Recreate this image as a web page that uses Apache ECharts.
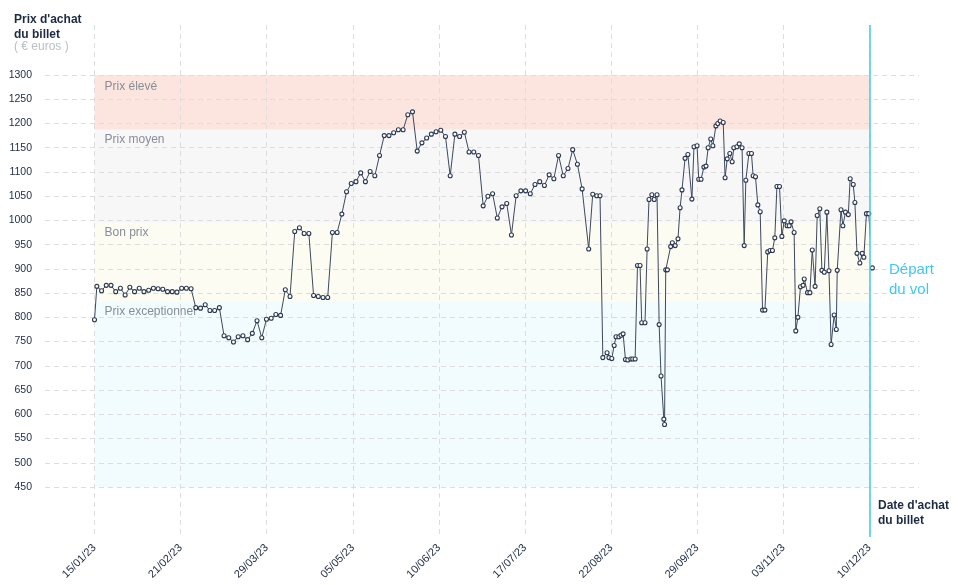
<!DOCTYPE html>
<html><head><meta charset="utf-8">
<script src="https://cdn.jsdelivr.net/npm/echarts@6/dist/echarts.min.js"></script>
<style>html,body{margin:0;padding:0;background:#fff}#c{width:958px;height:585px}</style>
</head><body><div id="c"></div>
<script>
// ---- data ----
const tickLabels = ['15/01/23','21/02/23','29/03/23','05/05/23','10/06/23','17/07/23','22/08/23','29/09/23','03/11/23','10/12/23'];
// days after 15/01/23
const purchaseDay = [
0,1,3,5,7,9,11,13,15,17,19,21,23,25,27,29,31,33,35,37,39,41,43,45,47,49,51,53,55,57,
59,61,63,65,67,69,71,73,75,77,79,81,83,85,87,89,91,93,95,97,99,101,103,105,107,109,111,113,115,117,
119,121,123,125,127,129,131,133,135,137,139,141,143,145,147,149,151,153,155,157,159,161,163,165,167,169,171,173,175,177,
179,181,183,185,187,189,191,193,195,197,199,201,203,205,207,
209.8,211.5,213.2,214.6,215.8,217.6,218.4,219.6,220.6,221.4,222.6,223.5,224.4,225.4,226.4,227.7,228.5,229.5,230.5,231.6,
232.3,233.7,234.6,235.4,236.6,237.6,238.8,239.7,240.5,241.7,242.0,242.5,243.2,244.6,245.3,246.5,247.7,248.6,249.4,250.7,
251.9,253.6,254.5,255.8,256.5,257.5,258.7,259.6,260.5,261.6,262.5,263.8,264.6,265.6,266.9,267.7,268.6,269.7,270.7,271.4,
272.7,273.7,274.9,275.8,276.5,277.8,278.9,279.6,280.6,281.6,282.6,283.6,284.6,285.8,286.8,287.8,288.8,289.7,290.8,291.8,
292.8,294.0,294.9,295.7,297.0,297.7,298.6,299.7,300.8,301.3,302.7,303.7,304.7,305.9,306.8,307.9,308.8,309.8,310.9,311.8,
312.7,314.0,314.9,315.3,316.9,317.7,318.8,320.0,320.8,322.1,322.8,323.7,324.9,325.9,326.6,327.7,328.7,330.2
];
// ticket price in euros
const price = [
795,864,855,866,866,853,860,846,862,853,
860,853,856,860,859,858,853,853,852,860,
860,859,820,819,826,814,814,820,762,758,
749,760,762,754,767,793,758,796,798,806,
804,857,843,977,985,973,973,845,843,841,
841,975,975,1013,1059,1076,1080,1098,1080,1101,
1092,1134,1175,1175,1181,1187,1187,1218,1224,1143,
1160,1170,1178,1183,1186,1173,1092,1178,1173,1182,
1141,1141,1134,1030,1050,1055,1005,1028,1035,970,
1051,1061,1061,1055,1074,1080,1072,1094,1086,1134,
1092,1107,1146,1116,1065,941,1054,1051,1051,717,
727,717,715,742,760,760,763,766,713,712,
714,714,714,907,907,789,789,941,1043,1053,
1043,1053,785,679,590,579,898,898,946,954,
948,962,1026,1063,1128,1136,1044,1152,1154,1085,
1085,1110,1112,1150,1168,1154,1195,1200,1205,1202,
1088,1127,1138,1121,1150,1152,1158,1150,948,1083,
1138,1138,1092,1090,1032,1018,815,815,935,938,
938,964,1070,1070,967,999,989,989,997,975,
772,800,863,866,879,851,851,939,864,1010,
1024,897,893,1017,896,744,805,775,897,1022,
989,1017,1012,1086,1074,1037,932,912,932,924,
1014,1014,902
];
const bandNames = ['Prix élevé','Prix moyen','Bon prix','Prix exceptionnel'];
const bandBounds = [1300,1187,995,832,450];
const bandColors = ['#fde5df','#f7f7f8','#fcfcf3','#f2fbfe'];
const bandLabelOffset = [6,4,4,4];

// ---- layout ----
const DAY_MAX = 329;
const Y_MIN = 450, Y_MAX = 1300, Y_STEP = 50;
const PLOT_TOP = 75, PLOT_BOTTOM = 487, FRAME_TOP = 25, FRAME_BOTTOM = 537;
const H = 585;
const upp = (Y_MAX - Y_MIN) / (PLOT_BOTTOM - PLOT_TOP);
const yLo = Y_MIN - (FRAME_BOTTOM - PLOT_BOTTOM) * upp;
const yHi = Y_MAX + (PLOT_TOP - FRAME_TOP) * upp;
const tickStep = DAY_MAX / (tickLabels.length - 1);

const FONT = "'Liberation Sans', Arial, sans-serif";
const NAVY = '#1d2a44';
const GRID_LINE = {color: '#dddddd', width: 1, type: [5, 4]};

const chart = echarts.init(document.getElementById('c'), null, {renderer: 'canvas'});
chart.setOption({
  animation: false,
  textStyle: {fontFamily: FONT},
  title: [
    {text: "Prix d'achat\ndu billet", left: 14, top: 12, padding: 0,
     textStyle: {fontSize: 12, fontWeight: 'bold', color: NAVY, lineHeight: 15, fontFamily: FONT}},
    {text: '( € euros )', left: 14, top: 40, padding: 0,
     textStyle: {fontSize: 12, fontWeight: 'normal', color: '#babec5', lineHeight: 14, fontFamily: FONT}},
    {text: "Date d'achat\ndu billet", left: 878, top: 498, padding: 0,
     textStyle: {fontSize: 12, fontWeight: 'bold', color: NAVY, lineHeight: 15, fontFamily: FONT}},
    {text: 'Départ\ndu vol', left: 889, top: 260, padding: 0,
     textStyle: {fontSize: 15, fontWeight: 'normal', color: '#3fc9ef', lineHeight: 20, fontFamily: FONT}}
  ],
  grid: [
    {left: 94.5, right: 88.5, top: FRAME_TOP, bottom: H - FRAME_BOTTOM, containLabel: false},
    {left: 45, right: 39, top: PLOT_TOP, bottom: H - PLOT_BOTTOM, containLabel: false}
  ],
  xAxis: [
    {gridIndex: 0, type: 'value', min: 0, max: DAY_MAX, interval: tickStep, z: 1,
     axisLine: {show: false}, axisTick: {show: false},
     splitLine: {show: true, lineStyle: GRID_LINE},
     axisLabel: {rotate: 45, margin: 9, fontSize: 11, color: NAVY, fontFamily: FONT,
       formatter: v => tickLabels[Math.round(v / tickStep)] || ''}},
    {gridIndex: 1, type: 'value', min: 0, max: 1, show: false}
  ],
  yAxis: [
    {gridIndex: 0, type: 'value', min: yLo, max: yHi, show: false},
    {gridIndex: 1, type: 'value', min: Y_MIN, max: Y_MAX, interval: Y_STEP, z: 1,
     axisLine: {show: false}, axisTick: {show: false},
     splitLine: {show: true, lineStyle: GRID_LINE},
     axisLabel: {margin: 13, fontSize: 10.5, color: NAVY, fontFamily: FONT,
       formatter: v => String(v)}}
  ],
  series: [{
    type: 'line', xAxisIndex: 0, yAxisIndex: 0, z: 3, clip: false,
    data: purchaseDay.map((d, i) => [d, price[i]]),
    symbol: 'circle', symbolSize: 4, showSymbol: true, showAllSymbol: true,
    lineStyle: {color: '#3d495e', width: 1},
    itemStyle: {color: '#ffffff', borderColor: '#2c3850', borderWidth: 1.1},
    emphasis: {disabled: true}, silent: true,
    markArea: {
      silent: true, z: 0,
      data: bandNames.map((name, i) => [
        {name: name, xAxis: 0, yAxis: bandBounds[i],
         itemStyle: {color: bandColors[i]},
         label: {show: true, position: 'insideTopLeft', distance: 0, offset: [10, bandLabelOffset[i]],
                 color: '#878d99', fontSize: 12, fontFamily: FONT}},
        {xAxis: DAY_MAX, yAxis: bandBounds[i + 1]}
      ])
    },
    markLine: {
      silent: true, symbol: ['none', 'none'], label: {show: false},
      lineStyle: {color: '#45c8ec', width: 1.5, type: 'solid'},
      data: [{xAxis: DAY_MAX}]
    }
  }]
});
</script></body></html>
